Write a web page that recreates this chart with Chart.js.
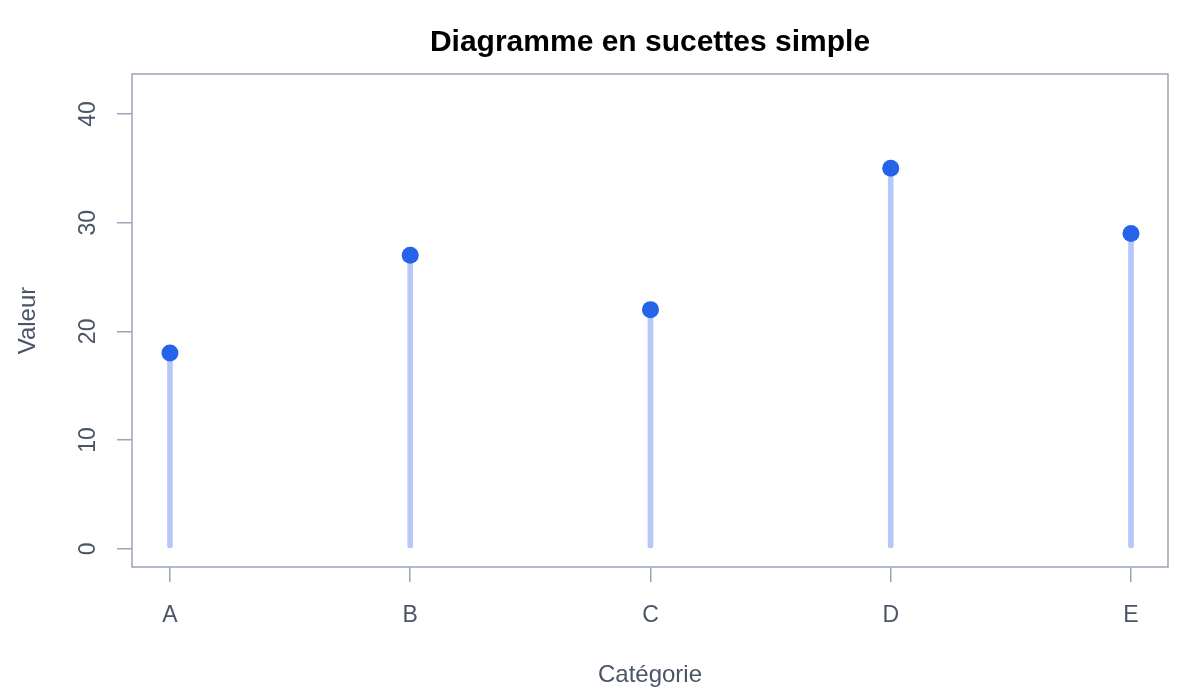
<!DOCTYPE html>
<html>
<head>
<meta charset="utf-8">
<script src="https://cdn.jsdelivr.net/npm/chart.js@4/dist/chart.umd.min.js"></script>
<style>
  html, body { margin: 0; padding: 0; background: #fff; }
  #wrap { width: 1200px; height: 700px; }
</style>
</head>
<body>
<div id="wrap"><canvas id="chart" width="1200" height="700"></canvas></div>
<script>
// data
const categories = ['A', 'B', 'C', 'D', 'E'];
const values = [18, 27, 22, 35, 29];
const yTicks = [0, 10, 20, 30, 40];

const textCol = '#4a5568';
const axisCol = '#9aa5b8';

const points = values.map((v, i) => ({ x: i, y: v }));

// box around the plot region, like R's bty="o"
const boxPlugin = {
  id: 'box',
  afterDraw(chart) {
    const { ctx, chartArea: a } = chart;
    ctx.save();
    ctx.strokeStyle = axisCol;
    ctx.lineWidth = 1.5;
    ctx.strokeRect(a.left, a.top, a.right - a.left, a.bottom - a.top);
    ctx.restore();
  }
};

new Chart(document.getElementById('chart'), {
  data: {
    datasets: [
      {
        type: 'bar',
        data: points,
        backgroundColor: '#b6c8f6',
        barThickness: 5,
        borderRadius: 3,
        borderSkipped: false,
        order: 2
      },
      {
        type: 'scatter',
        data: points,
        backgroundColor: '#2563eb',
        pointRadius: 8.5,
        pointBorderWidth: 0,
        order: 1
      }
    ]
  },
  options: {
    responsive: false,
    animation: false,
    layout: { padding: { left: 0, right: 32, top: 0, bottom: 0 } },
    plugins: {
      legend: { display: false },
      tooltip: { enabled: false },
      title: {
        display: true,
        fullSize: false,
        text: 'Diagramme en sucettes simple',
        color: '#000',
        font: { family: 'Liberation Sans', size: 30, weight: 'bold' },
        padding: { top: 25, bottom: 13 }
      }
    },
    scales: {
      x: {
        type: 'linear',
        offset: false,
        min: -0.158,
        max: 4.154,
        afterBuildTicks(s) { s.ticks = categories.map((c, i) => ({ value: i })); },
        afterFit(s) { s.height = 133; },
        ticks: {
          callback: (v) => categories[v],
          color: textCol,
          font: { family: 'Liberation Sans', size: 23 },
          padding: 20,
          maxRotation: 0
        },
        grid: { display: true, offset: false, drawOnChartArea: false, drawTicks: true, tickLength: 15, color: axisCol, lineWidth: 1.5 },
        border: { display: false },
        title: {
          display: true,
          text: 'Catégorie',
          color: textCol,
          font: { family: 'Liberation Sans', size: 24 },
          padding: { top: 0, bottom: 10 }
        }
      },
      y: {
        min: -1.68,
        max: 43.68,
        afterBuildTicks(s) { s.ticks = yTicks.map(v => ({ value: v })); },
        afterFit(s) { s.width = 132; },
        ticks: {
          color: textCol,
          font: { family: 'Liberation Sans', size: 23 },
          padding: 16,
          crossAlign: 'center',
          minRotation: 90,
          maxRotation: 90
        },
        grid: { display: true, drawOnChartArea: false, drawTicks: true, tickLength: 15, color: axisCol, lineWidth: 1.5 },
        border: { display: false },
        title: {
          display: true,
          text: 'Valeur',
          color: textCol,
          font: { family: 'Liberation Sans', size: 24 },
          padding: { top: 14, bottom: 0 }
        }
      }
    }
  },
  plugins: [boxPlugin]
});
</script>
</body>
</html>
